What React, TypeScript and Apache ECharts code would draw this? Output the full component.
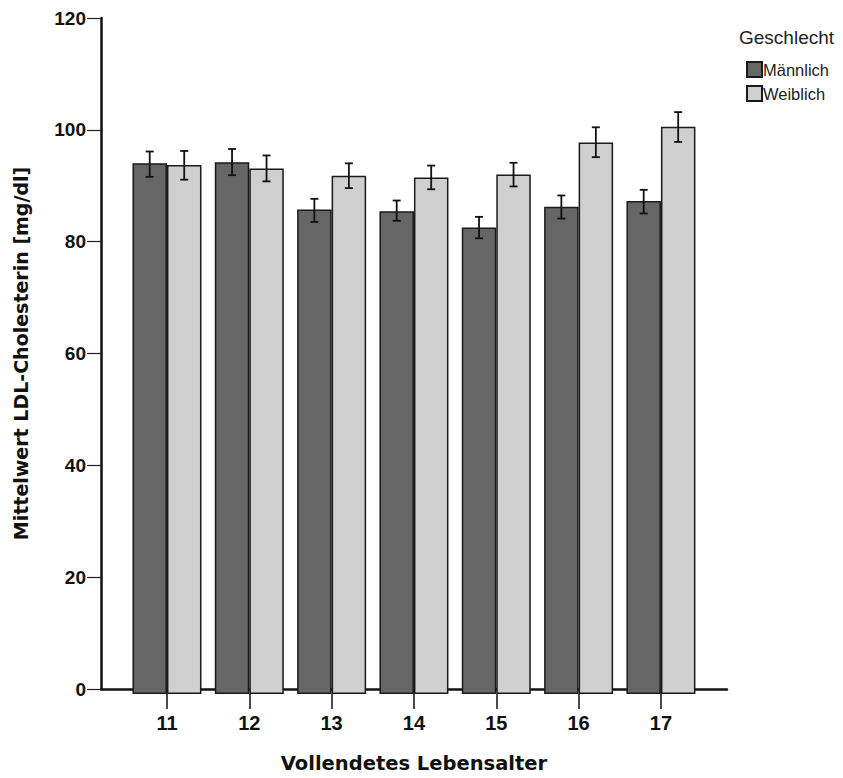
import React, { useEffect, useRef } from "react";
import * as echarts from "echarts";

const ages = ["11", "12", "13", "14", "15", "16", "17"];
const seriesNames = ["Männlich", "Weiblich"];
const male = [94.2, 94.4, 86.0, 85.7, 82.8, 86.5, 87.5];
const female = [93.9, 93.3, 92.0, 91.7, 92.2, 97.9, 100.7];
const maleLow = [91.8, 92.1, 83.8, 84.0, 80.9, 84.4, 85.3];
const maleHigh = [96.3, 96.75, 87.9, 87.6, 84.7, 88.5, 89.5];
const femaleLow = [91.3, 91.0, 89.8, 89.6, 90.1, 95.3, 98.0];
const femaleHigh = [96.4, 95.6, 94.2, 93.8, 94.3, 100.6, 103.3];
const yTicks = [0, 20, 40, 60, 80, 100, 120];

const BAR_W = 34.5;
const FONT = "'Liberation Sans', Arial, sans-serif";
const TITLE_FONT = "'DejaVu Sans', Verdana, sans-serif";

export default function App() {
  const ref = useRef<HTMLDivElement>(null);
  useEffect(() => {
    if (!ref.current) return;
    const chart = echarts.init(ref.current, null, { renderer: "svg" });
    const errData = (low: number[], high: number[], sign: number) =>
      ages.map((_, i) => [i, low[i], high[i], sign]);
    const renderErr = (params: any, api: any) => {
      const idx = api.value(0);
      const lo = api.coord([idx, api.value(1)]);
      const hi = api.coord([idx, api.value(2)]);
      const x = lo[0] + api.value(3) * (BAR_W / 2);
      const cap = 4;
      const style = { stroke: "#111", lineWidth: 1.8 };
      return {
        type: "group",
        children: [
          { type: "line", shape: { x1: x, y1: lo[1], x2: x, y2: hi[1] }, style },
          { type: "line", shape: { x1: x - cap, y1: lo[1], x2: x + cap, y2: lo[1] }, style },
          { type: "line", shape: { x1: x - cap, y1: hi[1], x2: x + cap, y2: hi[1] }, style },
        ],
      };
    };
    chart.setOption({
      animation: false,
      backgroundColor: "#ffffff",
      textStyle: { fontFamily: FONT },
      grid: [
        { left: 125.8, top: 18, width: 576.3, height: 676 },
        { left: 101, top: 18, width: 626, height: 676 },
      ],
      legend: {
        orient: "vertical",
        left: 746,
        top: 61,
        padding: 0,
        itemWidth: 15,
        itemHeight: 15,
        itemGap: 7,
        icon: "rect",
        data: seriesNames,
        textStyle: {
          fontFamily: FONT,
          fontSize: 16.5,
          lineHeight: 15,
          color: "#222",
          padding: [0, 0, 0, -4],
        },
      },
      graphic: [
        {
          type: "text",
          x: 739,
          y: 37,
          style: {
            text: "Geschlecht",
            font: `19px ${FONT}`,
            fill: "#222",
            verticalAlign: "middle",
          },
        },
      ],
      xAxis: [
        {
          type: "category",
          gridIndex: 0,
          data: ages,
          axisLine: { show: false },
          axisTick: { show: true, alignWithLabel: true, length: 15, lineStyle: { color: "#111", width: 1.5 } },
          axisLabel: { fontFamily: FONT, fontWeight: "bold", fontSize: 20, color: "#111", margin: 19 },
        },
        {
          type: "value",
          gridIndex: 1,
          min: 0,
          max: 1,
          axisLine: { show: true, lineStyle: { color: "#111", width: 2.5 } },
          axisTick: { show: false },
          axisLabel: { show: false },
          splitLine: { show: false },
          name: "Vollendetes Lebensalter",
          nameLocation: "middle",
          nameGap: 64,
          nameTextStyle: { fontFamily: TITLE_FONT, fontWeight: "bold", fontSize: 19.5, color: "#111" },
        },
      ],
      yAxis: [
        { type: "value", gridIndex: 0, min: 0, max: 120, show: false },
        {
          type: "value",
          gridIndex: 1,
          min: 0,
          max: 120,
          interval: 20,
          axisLine: { show: true, lineStyle: { color: "#111", width: 2.5 } },
          axisTick: { show: true, length: 14, lineStyle: { color: "#222", width: 1.2 } },
          axisLabel: {
            fontFamily: FONT,
            fontWeight: "bold",
            fontSize: 19,
            color: "#111",
            margin: 15,
            formatter: (v: number) => (yTicks.includes(v) ? String(v) : ""),
          },
          splitLine: { show: false },
          name: "Mittelwert LDL-Cholesterin [mg/dl]",
          nameLocation: "middle",
          nameGap: 71,
          nameTextStyle: { fontFamily: TITLE_FONT, fontWeight: "bold", fontSize: 19, color: "#111" },
        },
      ],
      series: [
        {
          name: seriesNames[0],
          type: "bar",
          xAxisIndex: 0,
          yAxisIndex: 0,
          data: male,
          barWidth: BAR_W,
          barGap: "0%",
          itemStyle: { color: "#666666", borderColor: "#1a1a1a", borderWidth: 1.5 },
        },
        {
          name: seriesNames[1],
          type: "bar",
          xAxisIndex: 0,
          yAxisIndex: 0,
          data: female,
          barWidth: BAR_W,
          barGap: "0%",
          itemStyle: { color: "#cfcfcf", borderColor: "#1a1a1a", borderWidth: 1.5 },
        },
        {
          type: "custom",
          xAxisIndex: 0,
          yAxisIndex: 0,
          data: errData(maleLow, maleHigh, -1),
          renderItem: renderErr,
          encode: { x: 0, y: [1, 2] },
          z: 10,
        },
        {
          type: "custom",
          xAxisIndex: 0,
          yAxisIndex: 0,
          data: errData(femaleLow, femaleHigh, 1),
          renderItem: renderErr,
          encode: { x: 0, y: [1, 2] },
          z: 10,
        },
      ],
    });
    return () => chart.dispose();
  }, []);
  return (
    <div
      ref={ref}
      style={{ position: "fixed", left: 0, top: 0, width: 843, height: 778, background: "#fff" }}
    />
  );
}
